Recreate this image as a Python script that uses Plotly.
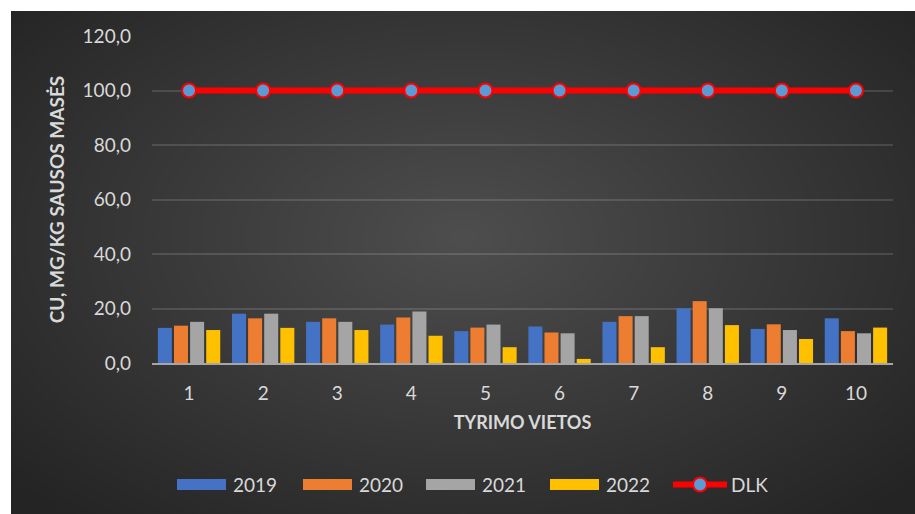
import base64
import struct
import zlib

import numpy as np
import plotly.graph_objects as go

# ---- data -------------------------------------------------------------
sites = ["1", "2", "3", "4", "5", "6", "7", "8", "9", "10"]
cu_2019 = [12.9, 18.1, 15.1, 14.1, 11.7, 13.4, 15.1, 20.1, 12.5, 16.4]
cu_2020 = [13.7, 16.4, 16.4, 16.7, 13.0, 11.2, 17.2, 22.7, 14.2, 11.7]
cu_2021 = [15.1, 18.1, 15.1, 18.9, 14.1, 10.9, 17.2, 20.1, 12.1, 10.9]
cu_2022 = [12.1, 12.9, 12.1, 10.0, 5.8, 1.5, 5.8, 13.9, 8.8, 13.0]
dlk = [100.0] * 10
series_names = ["2019", "2020", "2021", "2022"]
y_ticks = [0, 20, 40, 60, 80, 100, 120]

# ---- geometry of the page --------------------------------------------
W, H = 915, 514
L, R, T, B = 152, 22, 36, 151
PW, PH = W - L - R, H - T - B
FONT = "Lato"
TXT = "#d9d9d9"
colors = ["#4472C4", "#ED7D31", "#A5A5A5", "#FFC000"]


def px(x):
    return (x - L) / PW


def py(y):
    return (H - B - y) / PH


def png_uri(rgb):
    h, w, _ = rgb.shape
    raw = b"".join(b"\x00" + rgb[i].tobytes() for i in range(h))

    def chunk(tag, data):
        c = struct.pack(">I", len(data)) + tag + data
        return c + struct.pack(">I", zlib.crc32(tag + data) & 0xFFFFFFFF)

    png = b"\x89PNG\r\n\x1a\n"
    png += chunk(b"IHDR", struct.pack(">IIBBBBB", w, h, 8, 2, 0, 0, 0))
    png += chunk(b"IDAT", zlib.compress(raw, 9))
    png += chunk(b"IEND", b"")
    return "data:image/png;base64," + base64.b64encode(png).decode()


# radial dark background of the chart area
bx0, by0 = 11, 11
bw, bh = W - bx0, H - by0
yy, xx = np.mgrid[0:bh, 0:bw].astype(float)
cx, cy = bw * 0.5, bh * 0.45
r = np.sqrt(((xx - cx) / (bw * 0.5)) ** 2 + ((yy - cy) / (bh * 0.55)) ** 2)
t = np.clip(r / 1.35, 0, 1)
c_in, c_out = 78.0, 36.0
val = (c_in + (c_out - c_in) * t).astype(np.uint8)
bg = np.repeat(val[:, :, None], 3, axis=2)

fig = go.Figure()
for name, vals, col in zip(series_names, [cu_2019, cu_2020, cu_2021, cu_2022], colors):
    fig.add_trace(go.Bar(x=sites, y=vals, name=name, marker=dict(color=col, line=dict(width=0)),
                         showlegend=False))

fig.add_trace(go.Scatter(
    x=sites, y=dlk, name="DLK", mode="lines+markers",
    line=dict(color="#FF0000", width=6),
    marker=dict(size=14, color="#5B9BD5", line=dict(color="#FF0000", width=2)),
    showlegend=False,
))

# ---- legend drawn as swatches + labels --------------------------------
shapes = []
annotations = []
leg_y = 484.5
swatch_x = [177, 303, 426, 550]
for name, col, x0 in zip(series_names, colors, swatch_x):
    shapes.append(dict(type="rect", xref="paper", yref="paper",
                       x0=px(x0), x1=px(x0 + 49), y0=py(leg_y + 5.5), y1=py(leg_y - 5.5),
                       fillcolor=col, line=dict(width=0)))
    annotations.append(dict(text=name, xref="paper", yref="paper", x=px(x0 + 54), y=py(leg_y),
                            xanchor="left", yanchor="middle", showarrow=False,
                            font=dict(family=FONT, size=19, color=TXT)))
shapes.append(dict(type="line", xref="paper", yref="paper",
                   x0=px(673), x1=px(727), y0=py(leg_y), y1=py(leg_y),
                   line=dict(color="#FF0000", width=6)))
shapes.append(dict(type="circle", xref="paper", yref="paper",
                   x0=px(693), x1=px(707), y0=py(leg_y + 7), y1=py(leg_y - 7),
                   fillcolor="#5B9BD5", line=dict(color="#FF0000", width=2)))
annotations.append(dict(text="DLK", xref="paper", yref="paper", x=px(729), y=py(leg_y),
                        xanchor="left", yanchor="middle", showarrow=False,
                        font=dict(family=FONT, size=19, color=TXT)))

fig.update_layout(
    width=W, height=H,
    margin=dict(l=L, r=R, t=T, b=B, pad=0),
    paper_bgcolor="white",
    plot_bgcolor="rgba(0,0,0,0)",
    separators=", ",
    barmode="group",
    bargap=0.13,
    bargroupgap=0.13,
    font=dict(family=FONT, color=TXT),
    shapes=shapes,
    annotations=annotations,
    images=[dict(source=png_uri(bg), xref="paper", yref="paper",
                 x=px(bx0), y=py(by0), sizex=bw / PW, sizey=bh / PH,
                 xanchor="left", yanchor="top", sizing="stretch", layer="below")],
    xaxis=dict(
        type="category", range=[-0.5, 9.5],
        showgrid=False, zeroline=False,
        showline=True, linecolor="#a6a6a6", linewidth=1.5,
        ticks="", ticklabelstandoff=12,
        tickfont=dict(family=FONT, size=19, color=TXT),
        title=dict(text="<b>TYRIMO VIETOS</b>", standoff=14,
                   font=dict(family=FONT, size=18, color=TXT)),
    ),
    yaxis=dict(
        range=[0, 120], tickvals=y_ticks, tickformat=".1f",
        showgrid=True, gridcolor="rgba(255,255,255,0.13)", gridwidth=1.5,
        zeroline=False, showline=False,
        ticks="", ticklabelstandoff=20,
        tickfont=dict(family=FONT, size=19, color=TXT),
        title=dict(text="<b>CU, MG/KG SAUSOS MASĖS</b>", standoff=12,
                   font=dict(family=FONT, size=19, color=TXT)),
    ),
)

fig.write_html("out.html")
